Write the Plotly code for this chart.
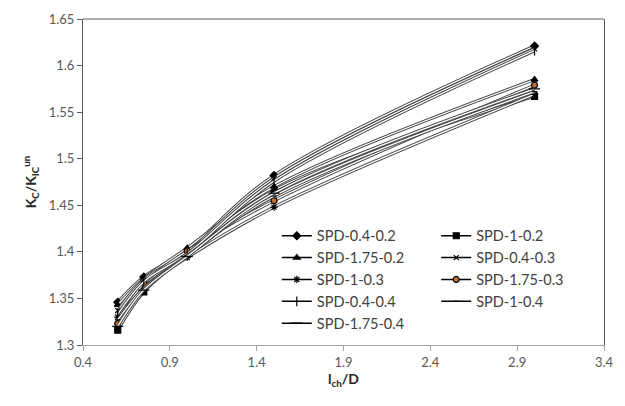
import plotly.graph_objects as go

x_vals = [0.6, 0.75, 1.0, 1.5, 3.0]

series_names = ["SPD-0.4-0.2", "SPD-1-0.2", "SPD-1.75-0.2", "SPD-0.4-0.3", "SPD-1-0.3",
                "SPD-1.75-0.3", "SPD-0.4-0.4", "SPD-1-0.4", "SPD-1.75-0.4"]

spd_04_02 = [1.346, 1.373, 1.402, 1.482, 1.621]
spd_1_02 = [1.316, 1.357, 1.397, 1.466, 1.567]
spd_175_02 = [1.343, 1.371, 1.404, 1.470, 1.585]
spd_04_03 = [1.337, 1.370, 1.400, 1.479, 1.618]
spd_1_03 = [1.330, 1.362, 1.394, 1.448, 1.569]
spd_175_03 = [1.323, 1.366, 1.401, 1.455, 1.579]
spd_04_04 = [1.333, 1.368, 1.398, 1.476, 1.616]
spd_1_04 = [1.327, 1.361, 1.396, 1.460, 1.572]
spd_175_04 = [1.320, 1.359, 1.395, 1.463, 1.575]

series_values = [spd_04_02, spd_1_02, spd_175_02, spd_04_03, spd_1_03,
                 spd_175_03, spd_04_04, spd_1_04, spd_175_04]

x_ticks = [0.4, 0.9, 1.4, 1.9, 2.4, 2.9, 3.4]
y_ticks = [1.3, 1.35, 1.4, 1.45, 1.5, 1.55, 1.6, 1.65]

symbols = ["diamond", "square", "triangle-up", "x-thin-open", "asterisk-open",
           "circle", "line-ns-open", "line-ew-open", "line-ew-open"]
sizes = [6, 6, 6, 5, 6, 6, 7, 4, 8]
fills = ["#000", "#000", "#000", "#000", "#000", "#C07030", "#000", "#000", "#000"]

fig = go.Figure()

for i, (name, vals, sym, sz, fc) in enumerate(zip(series_names, series_values, symbols, sizes, fills)):
    fig.add_trace(go.Scatter(x=x_vals, y=vals, mode="lines", showlegend=False,
                             line=dict(color="#404040", width=3.2, shape="spline", smoothing=1.0),
                             hoverinfo="skip"))
    fig.add_trace(go.Scatter(x=x_vals, y=vals, mode="lines", showlegend=False,
                             line=dict(color="white", width=1.3, shape="spline", smoothing=1.0),
                             hoverinfo="skip"))
    fig.add_trace(go.Scatter(x=x_vals, y=vals, mode="markers", showlegend=False, name=name,
                             marker=dict(symbol=sym, size=sz, color=fc,
                                         line=dict(color="#000", width=1.2))))
    fig.add_trace(go.Scatter(x=[None], y=[None], mode="lines+markers", name=name,
                             legend="legend" if i % 2 == 0 else "legend2",
                             line=dict(color="#000", width=1.5),
                             marker=dict(symbol=sym, size=sz, color=fc,
                                         line=dict(color="#000", width=1.2))))

leg_common = dict(orientation="v", yanchor="top", xanchor="left", bgcolor="rgba(0,0,0,0)",
                  font=dict(size=14.5, color="#404040"), itemwidth=30, tracegroupgap=0)

fig.update_layout(
    width=625, height=406,
    margin=dict(l=83, r=11, t=19, b=61),
    paper_bgcolor="white", plot_bgcolor="white",
    font=dict(family="Lato, Open Sans, sans-serif", size=13, color="#404040"),
    legend=dict(x=0.372, y=0.384, **leg_common),
    legend2=dict(x=0.678, y=0.384, **leg_common),
    xaxis=dict(range=[0.4, 3.4], tickvals=x_ticks, ticktext=[str(v) for v in x_ticks],
               showgrid=False, zeroline=False, showline=True, linecolor="#a6a6a6", linewidth=1,
               ticks="outside", ticklen=5, tickcolor="#a6a6a6",
               tickfont=dict(size=13, color="#595959"),
               title=dict(text="<b>l<sub>ch</sub>/D</b>", font=dict(size=14, color="#262626"), standoff=3)),
    yaxis=dict(range=[1.3, 1.65], tickvals=y_ticks, ticktext=[f"{v:g}" for v in y_ticks],
               showgrid=False, zeroline=False, showline=True, linecolor="#595959", linewidth=1,
               mirror=True,
               ticks="outside", ticklen=5, tickcolor="#595959",
               tickfont=dict(size=13, color="#595959"),
               title=dict(text="<b>K<sub>C</sub>/K<sub>IC</sub><sup>un</sup></b>",
                          font=dict(size=14, color="#262626"), standoff=8)),
    shapes=[dict(type="line", xref="paper", yref="paper", x0=0, x1=1, y0=1, y1=1,
                 line=dict(color="#595959", width=1))],
)

fig.write_html("out.html")
